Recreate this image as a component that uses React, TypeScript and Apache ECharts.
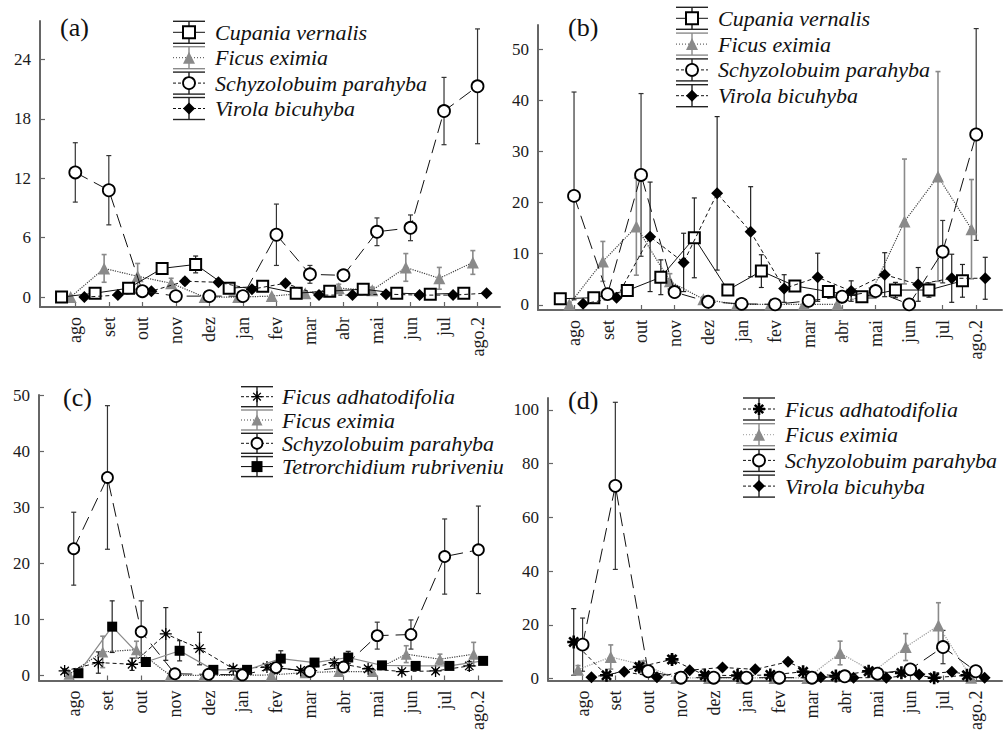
import React, { useEffect, useRef } from 'react';
import * as echarts from 'echarts';

// ---------- categories & tick labels ----------
const months = ['ago', 'set', 'out', 'nov', 'dez', 'jan', 'fev', 'mar', 'abr', 'mai', 'jun', 'jul', 'ago.2'];
const monthIdx = months.map((_, i) => i);
const yTicksA = [0, 6, 12, 18, 24];
const yTicksB = [0, 10, 20, 30, 40, 50];
const yTicksC = [0, 10, 20, 30, 40, 50];
const yTicksD = [0, 20, 40, 60, 80, 100];

// ---------- panel (a) ----------
const aCupania = [0, 0.4, 0.9, 2.9, 3.3, 0.9, 1.1, 0.4, 0.6, 0.8, 0.4, 0.3, 0.4];
const aCupaniaErr = [0.1, 0.2, 0.3, 0.3, 0.85, 0.3, 0.3, 0.2, 0.2, 0.2, 0.2, 0.2, 0.2];
const aEximia = [0, 2.9, 2.1, 1.4, 0, 0, 0.1, 0.4, 0.9, 0.7, 3.0, 1.9, 3.5];
const aEximiaErr = [0, 1.4, 1.3, 0.5, 0, 0, 0.1, 0.2, 0.4, 0.3, 1.4, 1.1, 1.2];
const aSchyz = [12.6, 10.8, 0.6, 0.1, 0.1, 0.1, 6.3, 2.3, 2.2, 6.6, 7.0, 18.8, 21.3];
const aSchyzErr = [3.0, 3.5, 0.4, 0.1, 0.1, 0.1, 3.1, 0.9, 0.3, 1.4, 1.3, 3.4, 5.8];
const aVirola = [0, 0.2, 0.6, 1.6, 1.5, 0.8, 1.4, 0.2, 0.2, 0.3, 0.2, 0.2, 0.4];
const aVirolaErr = [0, 0.1, 0.2, 0.3, 0.3, 0.2, 0.3, 0.1, 0.1, 0.1, 0.1, 0.1, 0.1];

// ---------- panel (b) ----------
const bCupania = [1.2, 1.4, 2.8, 5.4, 13.1, 2.9, 6.6, 3.7, 2.6, 1.6, 2.9, 2.9, 4.7];
const bCupaniaErr = [0.5, 0.5, 0.8, 3.4, 7.8, 0.8, 3.2, 1.0, 0.6, 0.5, 1.5, 1.4, 3.2];
const bEximia = [0.1, 8.5, 15.3, 4.6, 1.1, 0.1, 0.1, 0.1, 0.1, 2.3, 16.3, 25.1, 14.8];
const bEximiaErr = [0, 3.9, 9.5, 1.5, 0.5, 0, 0, 0, 0, 1.0, 12.2, 20.5, 9.7];
const bSchyz = [21.3, 2.1, 25.4, 2.5, 0.6, 0.2, 0.1, 0.8, 1.6, 2.7, 0.1, 10.4, 33.3];
const bSchyzErr = [20.3, 0.5, 15.9, 0.8, 0.3, 0.1, 0.1, 0.5, 0.6, 0.5, 0.1, 6.1, 20.7];
const bVirola = [0.2, 1.4, 13.3, 8.3, 21.8, 14.3, 3.2, 5.4, 2.7, 5.9, 4.0, 5.2, 5.2];
const bVirolaErr = [0.1, 0.5, 10.7, 5.7, 15.0, 8.8, 2.7, 4.7, 2.0, 4.3, 3.3, 4.7, 4.1];

// ---------- panel (c) ----------
const cAdhat = [0.8, 2.3, 2.0, 7.4, 4.8, 1.2, 1.5, 0.9, 2.3, 1.2, 0.7, 0.8, 1.7];
const cAdhatErr = [0.4, 1.9, 1.1, 4.7, 2.9, 0.4, 0.5, 0.3, 0.6, 0.4, 0.3, 0.3, 0.8];
const cEximia = [0.2, 4.2, 4.6, 0, 0, 0, 0.1, 0.5, 0.7, 0.7, 3.8, 2.9, 3.8];
const cEximiaErr = [0.1, 2.8, 1.5, 0, 0, 0, 0.1, 0.2, 0.3, 0.3, 1.5, 0.9, 2.1];
const cSchyz = [22.6, 35.3, 7.8, 0.3, 0.2, 0.1, 1.4, 0.7, 1.5, 7.1, 7.3, 21.2, 22.4];
const cSchyzErr = [6.5, 12.8, 5.5, 0.2, 0.1, 0.1, 0.5, 0.3, 0.5, 2.4, 2.6, 6.7, 7.8];
const cTetr = [0.4, 8.7, 2.4, 4.4, 1.0, 1.0, 3.0, 2.3, 3.2, 1.8, 1.7, 1.7, 2.6];
const cTetrErr = [0.2, 4.6, 0.6, 1.8, 0.3, 0.3, 1.4, 0.5, 1.1, 0.4, 0.4, 0.4, 0.5];

// ---------- panel (d) ----------
const dAdhat = [13.6, 1.2, 4.3, 7.1, 1.2, 1.1, 1.3, 2.5, 0.9, 2.7, 2.1, 0.3, 1.2];
const dAdhatErr = [12.4, 0.8, 1.5, 1.5, 0.5, 0.5, 0.5, 0.8, 0.4, 0.8, 0.7, 0.2, 0.5];
const dEximia = [3.3, 8.0, 5.0, 0.2, 0.2, 0.2, 0.2, 0.2, 9.5, 2.5, 11.7, 19.7, 0.3];
const dEximiaErr = [1.5, 4.5, 1.5, 0.1, 0.1, 0.1, 0.1, 0.1, 4.4, 1.0, 5.0, 8.5, 0.2];
const dSchyz = [12.6, 71.7, 2.7, 0.3, 0.3, 0.3, 0.3, 0.3, 0.8, 1.8, 3.4, 11.7, 2.7];
const dSchyzErr = [9.9, 31.1, 1.5, 0.1, 0.1, 0.1, 0.1, 0.1, 0.3, 0.6, 1.0, 6.2, 0.8];
const dVirola = [0.5, 2.5, 0.5, 3.1, 4.1, 3.4, 6.2, 0.5, 0.3, 0.3, 1.5, 2.5, 0.3];
const dVirolaErr = [0.2, 0.5, 0.2, 0.6, 0.7, 0.6, 1.0, 0.2, 0.1, 0.1, 0.3, 0.5, 0.1];

const NAMES: Record<string, string> = {
  cup: 'Cupania vernalis',
  adh: 'Ficus adhatodifolia',
  exi: 'Ficus eximia',
  sch: 'Schyzolobuim parahyba',
  tet: 'Tetrorchidium rubrivenium',
  vir: 'Virola bicuhyba',
};

// ---------- styling ----------
const FONT = 'Liberation Serif, Times New Roman, serif';
const OFFSET: Record<string, number> = { cup: -0.41, adh: -0.27, exi: -0.14, sch: 0, tet: 0.14, vir: 0.27 };
const ASTERISK = 'path://M10,0L10,20M0,10L20,10M3,3L17,17M3,17L17,3';

function spStyle(sp: string, panel: number) {
  switch (sp) {
    case 'cup':
      return { symbol: 'rect', kind: 'rect', fill: '#fff', stroke: '#000', bw: 2, line: { color: '#111', width: 1, type: 'solid' as any }, err: '#222', ew: 1.2 };
    case 'exi':
      return { symbol: 'triangle', kind: 'tri', fill: '#8a8a8a', stroke: '#8a8a8a', bw: 0, line: { color: panel === 3 ? '#9a9a9a' : '#444', width: 1.2, type: 'dotted' as any }, err: '#8a8a8a', ew: 1.6 };
    case 'sch':
      return { symbol: 'circle', kind: 'circle', fill: '#fff', stroke: '#000', bw: 1.8, line: { color: '#111', width: 1, type: [14, 7] as any }, err: '#333', ew: 1.2 };
    case 'vir':
      return { symbol: 'diamond', kind: 'diamond', fill: '#000', stroke: '#000', bw: 0, line: { color: '#111', width: 1, type: [4, 3] as any }, err: '#222', ew: 1.2 };
    case 'adh':
      return { symbol: ASTERISK, kind: 'star', fill: 'none', stroke: '#000', bw: panel === 3 ? 2.6 : 1.3, line: { color: '#111', width: 1, type: [4, 3] as any }, err: '#222', ew: 1.2 };
    case 'tet':
    default:
      return { symbol: 'rect', kind: 'rect', fill: '#000', stroke: '#000', bw: 0, line: { color: '#8a8a8a', width: 1.2, type: 'solid' as any }, err: '#222', ew: 1.2 };
  }
}

const panels = [
  {
    label: '(a)', labelPos: [60, 27],
    grid: { left: 40, top: 21, width: 460, height: 286 },
    x: [-1.053, 12.67], y: [-1, 27.9], yTicks: yTicksA, size: 12,
    species: [['exi', aEximia, aEximiaErr], ['cup', aCupania, aCupaniaErr], ['vir', aVirola, aVirolaErr], ['sch', aSchyz, aSchyzErr]],
    legendOrder: ['cup', 'exi', 'sch', 'vir'],
    legend: { cx: 189, cy: 32.3, step: 25.4, tx: 215, cap: 11 },
  },
  {
    label: '(b)', labelPos: [568, 27],
    grid: { left: 538, top: 25, width: 464, height: 285 },
    x: [-1.075, 12.77], y: [-1, 54.7], yTicks: yTicksB, size: 12,
    species: [['exi', bEximia, bEximiaErr], ['cup', bCupania, bCupaniaErr], ['vir', bVirola, bVirolaErr], ['sch', bSchyz, bSchyzErr]],
    legendOrder: ['cup', 'exi', 'sch', 'vir'],
    legend: { cx: 692, cy: 18.3, step: 25.8, tx: 718, cap: 11 },
  },
  {
    label: '(c)', labelPos: [63, 397],
    grid: { left: 39, top: 395, width: 463, height: 288 },
    x: [-1.03, 12.7], y: [-0.9, 50], yTicks: yTicksC, size: 11,
    species: [['exi', cEximia, cEximiaErr], ['adh', cAdhat, cAdhatErr], ['tet', cTetr, cTetrErr], ['sch', cSchyz, cSchyzErr]],
    legendOrder: ['adh', 'exi', 'sch', 'tet'],
    legend: { cx: 257, cy: 396.7, step: 23.3, tx: 282, cap: 10 },
  },
  {
    label: '(d)', labelPos: [568, 400],
    grid: { left: 548, top: 398, width: 454, height: 284 },
    x: [-1.055, 12.8], y: [-0.75, 104.4], yTicks: yTicksD, size: 12,
    species: [['exi', dEximia, dEximiaErr], ['adh', dAdhat, dAdhatErr], ['vir', dVirola, dVirolaErr], ['sch', dSchyz, dSchyzErr]],
    legendOrder: ['adh', 'exi', 'sch', 'vir'],
    legend: { cx: 759, cy: 409, step: 25.7, tx: 785, cap: 11 },
  },
];

function errSeries(pi: number, sp: string, vals: number[], errs: number[], ymin: number, ymax: number) {
  const st = spStyle(sp, pi);
  const off = OFFSET[sp];
  return {
    type: 'custom',
    xAxisIndex: pi,
    yAxisIndex: pi,
    silent: true,
    z: 2,
    encode: { x: 0, y: 1 },
    data: vals.map((v, k) => [monthIdx[k] + off, v, errs[k]]),
    renderItem: (params: any, api: any) => {
      const x = api.value(0);
      const y = api.value(1);
      const e = api.value(2);
      if (!(e > 0)) return;
      const hi = Math.min(y + e, ymax);
      const lo = Math.max(y - e, ymin);
      const p1 = api.coord([x, hi]);
      const p2 = api.coord([x, lo]);
      const style = { stroke: st.err, lineWidth: st.ew };
      const cap = 2.5;
      return {
        type: 'group',
        children: [
          { type: 'line', shape: { x1: p1[0], y1: p1[1], x2: p2[0], y2: p2[1] }, style },
          { type: 'line', shape: { x1: p1[0] - cap, y1: p1[1], x2: p1[0] + cap, y2: p1[1] }, style },
          { type: 'line', shape: { x1: p2[0] - cap, y1: p2[1], x2: p2[0] + cap, y2: p2[1] }, style },
        ],
      };
    },
  };
}

function lineSeries(pi: number, sp: string, vals: number[], size: number, z: number) {
  const st = spStyle(sp, pi);
  const off = OFFSET[sp];
  let sz = size;
  if (sp === 'cup' || sp === 'tet') sz = size - 1;
  if (sp === 'adh') sz = size + 1;
  return {
    type: 'line',
    name: NAMES[sp],
    xAxisIndex: pi,
    yAxisIndex: pi,
    silent: true,
    z,
    clip: false,
    data: vals.map((v, k) => [monthIdx[k] + off, v]),
    symbol: st.symbol,
    symbolSize: sz,
    showSymbol: true,
    showAllSymbol: true,
    itemStyle: { color: st.fill === 'none' ? 'rgba(0,0,0,0)' : st.fill, borderColor: st.stroke, borderWidth: st.bw, opacity: 1 },
    lineStyle: { color: st.line.color, width: st.line.width, type: st.line.type },
  };
}

function markerGraphic(kind: string, cx: number, cy: number, s: number, st: any) {
  const style: any = { fill: st.fill === 'none' ? 'none' : st.fill, stroke: st.bw > 0 ? st.stroke : 'none', lineWidth: st.bw };
  const h = s / 2;
  if (kind === 'rect') return [{ type: 'rect', shape: { x: cx - h, y: cy - h, width: s, height: s }, style }];
  if (kind === 'circle') return [{ type: 'circle', shape: { cx, cy, r: h }, style }];
  if (kind === 'tri') return [{ type: 'polygon', shape: { points: [[cx, cy - h], [cx + h, cy + h], [cx - h, cy + h]] }, style }];
  if (kind === 'diamond') return [{ type: 'polygon', shape: { points: [[cx, cy - h], [cx + h, cy], [cx, cy + h], [cx - h, cy]] }, style }];
  const ls = { stroke: '#000', lineWidth: st.bw };
  const d = h * 0.7;
  return [
    { type: 'line', shape: { x1: cx, y1: cy - h, x2: cx, y2: cy + h }, style: ls },
    { type: 'line', shape: { x1: cx - h, y1: cy, x2: cx + h, y2: cy }, style: ls },
    { type: 'line', shape: { x1: cx - d, y1: cy - d, x2: cx + d, y2: cy + d }, style: ls },
    { type: 'line', shape: { x1: cx - d, y1: cy + d, x2: cx + d, y2: cy - d }, style: ls },
  ];
}

function legendGraphics(pi: number) {
  const p = panels[pi];
  const L = p.legend;
  const out: any[] = [];
  p.legendOrder.forEach((sp, i) => {
    const st = spStyle(sp, pi);
    const cy = L.cy + i * L.step;
    const cx = L.cx;
    const hw = 16;
    const capColor = sp === 'exi' ? '#8a8a8a' : '#222';
    const cs = { stroke: capColor, lineWidth: 1.4 };
    out.push({ type: 'line', shape: { x1: cx - hw, y1: cy - L.cap, x2: cx + hw, y2: cy - L.cap }, style: cs });
    out.push({ type: 'line', shape: { x1: cx - hw, y1: cy + L.cap, x2: cx + hw, y2: cy + L.cap }, style: cs });
    out.push({ type: 'line', shape: { x1: cx, y1: cy - L.cap, x2: cx, y2: cy + L.cap }, style: cs });
    const dash = st.line.type === 'dotted' ? [1, 2] : Array.isArray(st.line.type) ? [3, 2] : null;
    out.push({ type: 'line', shape: { x1: cx - hw, y1: cy, x2: cx + hw, y2: cy }, style: { stroke: sp === 'tet' ? '#000' : st.line.color, lineWidth: 1, lineDash: dash } });
    out.push(...markerGraphic(st.kind, cx, cy, p.size, st));
    const textStyle: any = {
      text: NAMES[sp],
      fontFamily: FONT,
      fontStyle: 'italic',
      fontSize: 22,
      fill: '#111',
      align: 'left',
      verticalAlign: 'middle',
    };
    if (sp === 'tet') {
      textStyle.width = 238;
      textStyle.overflow = 'truncate';
      textStyle.ellipsis = '';
    }
    out.push({ type: 'text', x: L.tx, y: cy, style: textStyle });
  });
  out.push({
    type: 'text', x: p.labelPos[0], y: p.labelPos[1],
    style: { text: p.label, fontFamily: FONT, fontSize: 26, fill: '#111', align: 'left', verticalAlign: 'middle' },
  });
  return out;
}

function buildOption() {
  const grid: any[] = [];
  const xAxis: any[] = [];
  const yAxis: any[] = [];
  const series: any[] = [];
  const graphics: any[] = [];
  panels.forEach((p, pi) => {
    grid.push({ ...p.grid, containLabel: false });
    xAxis.push({
      type: 'value', gridIndex: pi, min: p.x[0], max: p.x[1],
      axisLine: { show: true, onZero: false, lineStyle: { color: '#666', width: 2 } },
      axisTick: { show: true, inside: true, length: 5, customValues: monthIdx, lineStyle: { color: '#666', width: 1.2 } },
      axisLabel: {
        show: true, rotate: 90, margin: 10, customValues: monthIdx,
        formatter: (v: number) => months[Math.round(v)] ?? '',
        fontFamily: FONT, fontSize: 18, color: '#1a1a1a',
      },
      splitLine: { show: false },
    });
    yAxis.push({
      type: 'value', gridIndex: pi, min: p.y[0], max: p.y[1],
      axisLine: { show: true, onZero: false, lineStyle: { color: '#666', width: 2 } },
      axisTick: { show: true, inside: true, length: 5, customValues: p.yTicks, lineStyle: { color: '#666', width: 1.2 } },
      axisLabel: { show: true, margin: 9, customValues: p.yTicks, fontFamily: FONT, fontSize: 17, color: '#1a1a1a' },
      splitLine: { show: false },
    });
    p.species.forEach(([sp, vals, errs]: any) => {
      series.push(errSeries(pi, sp, vals, errs, p.y[0], p.y[1]));
    });
    p.species.forEach(([sp, vals]: any, k: number) => {
      series.push(lineSeries(pi, sp, vals, p.size, 3 + k));
    });
    graphics.push(...legendGraphics(pi));
  });
  return {
    animation: false,
    backgroundColor: '#fff',
    textStyle: { fontFamily: FONT },
    grid, xAxis, yAxis, series,
    graphic: { elements: graphics },
  };
}

export default function App() {
  const ref = useRef<HTMLDivElement>(null);
  useEffect(() => {
    if (!ref.current) return;
    const chart = echarts.init(ref.current, null, { renderer: 'svg' });
    chart.setOption(buildOption() as any);
    return () => chart.dispose();
  }, []);
  return (
    <div
      ref={ref}
      style={{ position: 'fixed', left: 0, top: 0, width: 1003, height: 733, background: '#fff' }}
    />
  );
}
